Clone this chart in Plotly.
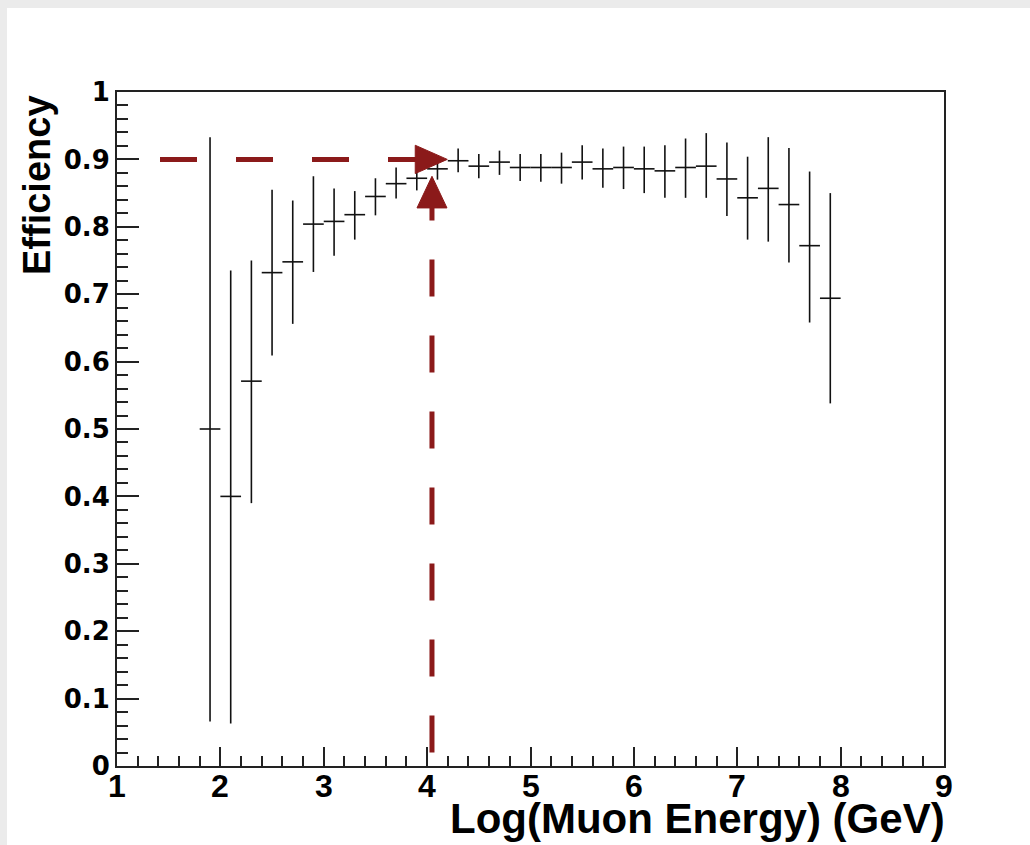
import plotly.graph_objects as go

# ---- data ----
log_energy = [1.9, 2.1, 2.3, 2.5, 2.7, 2.9, 3.1, 3.3, 3.5, 3.7, 3.9, 4.1, 4.3, 4.5, 4.7,
              4.9, 5.1, 5.3, 5.5, 5.7, 5.9, 6.1, 6.3, 6.5, 6.7, 6.9, 7.1, 7.3, 7.5, 7.7, 7.9]
efficiency = [0.500, 0.400, 0.571, 0.732, 0.748, 0.804, 0.808, 0.818, 0.845, 0.864, 0.872,
              0.886, 0.898, 0.890, 0.896, 0.888, 0.888, 0.888, 0.896, 0.886, 0.888, 0.886,
              0.883, 0.888, 0.890, 0.871, 0.843, 0.857, 0.833, 0.772, 0.694]
eff_upper = [0.933, 0.735, 0.750, 0.855, 0.839, 0.875, 0.857, 0.853, 0.872, 0.888, 0.892,
             0.903, 0.916, 0.908, 0.913, 0.908, 0.908, 0.910, 0.921, 0.916, 0.919, 0.919,
             0.921, 0.931, 0.939, 0.925, 0.904, 0.933, 0.917, 0.882, 0.850]
eff_lower = [0.066, 0.063, 0.390, 0.609, 0.656, 0.733, 0.757, 0.781, 0.817, 0.842, 0.854,
             0.870, 0.881, 0.872, 0.877, 0.868, 0.867, 0.864, 0.870, 0.858, 0.856, 0.850,
             0.843, 0.843, 0.843, 0.816, 0.781, 0.778, 0.747, 0.658, 0.538]
bin_half_width = 0.1

x_tick_vals = [1, 2, 3, 4, 5, 6, 7, 8, 9]
x_tick_text = ["1", "2", "3", "4", "5", "6", "7", "8", "9"]
y_tick_vals = [0, 0.1, 0.2, 0.3, 0.4, 0.5, 0.6, 0.7, 0.8, 0.9, 1.0]
y_tick_text = ["0", "0.1", "0.2", "0.3", "0.4", "0.5", "0.6", "0.7", "0.8", "0.9", "1"]

# threshold markers (90% efficiency reached at log E ~ 4.05)
thresh_eff = 0.9
thresh_logE = 4.047
hline_start = 1.416
hline_end = 3.9
h_arrow_base = 3.885
h_arrow_tip = 4.195
h_arrow_half = 0.021
vline_start = 0.02
vline_end = 0.83
v_arrow_base = 0.828
v_arrow_tip = 0.875
v_arrow_half = 0.145

RED = "#8b1a1a"
SANS = "Liberation Sans, Arial, Helvetica, sans-serif"

err_plus = [u - e for u, e in zip(eff_upper, efficiency)]
err_minus = [e - l for e, l in zip(efficiency, eff_lower)]

fig = go.Figure()
fig.add_trace(go.Scatter(
    x=log_energy, y=efficiency, mode="markers",
    marker=dict(size=1, color="black", opacity=0),
    error_x=dict(type="constant", value=bin_half_width, width=0, thickness=1.6, color="#111"),
    error_y=dict(type="data", array=err_plus, arrayminus=err_minus, symmetric=False,
                 width=0, thickness=1.6, color="#111"),
    showlegend=False, hoverinfo="skip",
))

# figure geometry
W, H = 1030, 845
L, R, T, B = 117, 86, 92, 79
pw, ph = W - L - R, H - T - B

def px_x(px):
    return (px - L) / pw

def px_y(py):
    return (H - B - py) / ph

shapes = [
    # white panel over gray page background
    dict(type="rect", xref="paper", yref="paper", x0=px_x(7), x1=px_x(W + 5),
         y0=px_y(H + 5), y1=px_y(8), fillcolor="white", line=dict(width=0), layer="below"),
    # horizontal dashed line
    dict(type="line", xref="x", yref="y", x0=hline_start, x1=hline_end, y0=thresh_eff, y1=thresh_eff,
         line=dict(color=RED, width=5, dash="37px,39px")),
    # vertical dashed line
    dict(type="line", xref="x", yref="y", x0=thresh_logE, x1=thresh_logE, y0=vline_start, y1=vline_end,
         line=dict(color=RED, width=5, dash="37px,39px")),
    # arrowheads
    dict(type="path", xref="x", yref="y",
         path=f"M {h_arrow_base},{thresh_eff - h_arrow_half} L {h_arrow_tip},{thresh_eff} "
              f"L {h_arrow_base},{thresh_eff + h_arrow_half} Z",
         fillcolor=RED, line=dict(color=RED, width=1)),
    dict(type="path", xref="x", yref="y",
         path=f"M {thresh_logE - v_arrow_half},{v_arrow_base} L {thresh_logE},{v_arrow_tip} "
              f"L {thresh_logE + v_arrow_half},{v_arrow_base} Z",
         fillcolor=RED, line=dict(color=RED, width=1)),
]

annotations = [
    dict(text="<b>Log(Muon Energy) (GeV)</b>", xref="paper", yref="paper",
         x=px_x(947), y=px_y(793), xanchor="right", yanchor="top", showarrow=False,
         font=dict(family=SANS, size=42, color="black")),
    dict(text="<b>Efficiency</b>", xref="paper", yref="paper", textangle=-90,
         x=px_x(37), y=px_y(185), xanchor="center", yanchor="middle", showarrow=False,
         font=dict(family=SANS, size=38, color="black")),
]
# x tick labels placed as annotations so they sit close under the axis
for v, t in zip(x_tick_vals, x_tick_text):
    annotations.append(dict(text=f"<b>{t}</b>", xref="x", yref="paper", x=v, y=px_y(766),
                            xanchor="center", yanchor="top", showarrow=False,
                            font=dict(family=SANS, size=32, color="black")))

fig.update_layout(
    width=W, height=H,
    margin=dict(l=L, r=R, t=T, b=B, pad=0),
    paper_bgcolor="#ebebeb",
    plot_bgcolor="white",
    shapes=shapes,
    annotations=annotations,
    xaxis=dict(
        range=[1, 9], tickvals=x_tick_vals, showticklabels=False, ticks="inside", ticklen=19,
        tickwidth=1.5, tickcolor="#222", showgrid=False, zeroline=False, showline=True,
        linecolor="#222", linewidth=2, mirror=True,
        minor=dict(dtick=0.2, ticks="inside", ticklen=10, tickwidth=1.5, tickcolor="#222", showgrid=False),
    ),
    yaxis=dict(
        range=[0, 1], tickvals=y_tick_vals, ticktext=y_tick_text, ticks="inside", ticklen=22,
        tickwidth=1.5, tickcolor="#222", showgrid=False, zeroline=False, showline=True,
        linecolor="#222", linewidth=2, mirror=True, ticklabelstandoff=0,
        tickfont=dict(family="DejaVu Sans, sans-serif", size=26, color="black", weight="bold"),
        minor=dict(tick0=0, dtick=0.02, ticks="inside", ticklen=11, tickwidth=1.5, tickcolor="#222",
                   showgrid=False),
    ),
)

fig.write_html("out.html")
